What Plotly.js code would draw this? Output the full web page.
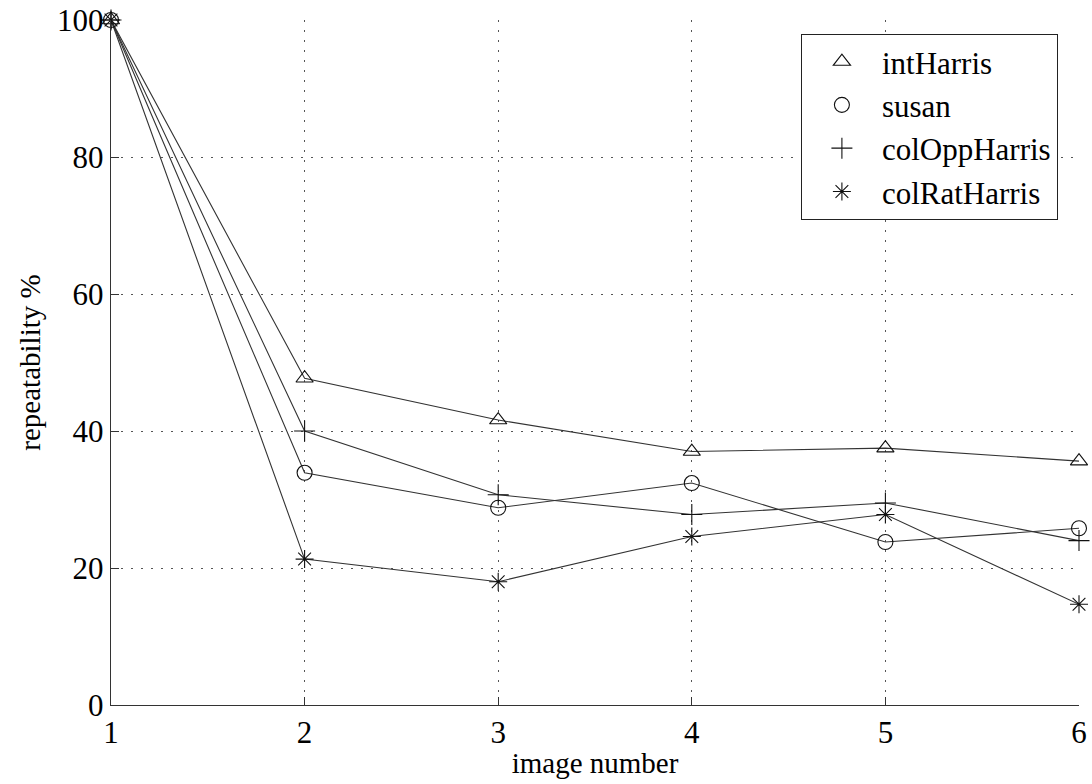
<!DOCTYPE html>
<html>
<head>
<meta charset="utf-8">
<script src="https://cdn.plot.ly/plotly-3.0.1.min.js"></script>
<style>
  html, body { margin: 0; padding: 0; background: #ffffff; }
  #chart { width: 1092px; height: 784px; }
</style>
</head>
<body>
<div id="chart"></div>
<script>
// Repeatability of interest point detectors over an image sequence
const imageNumbers = [1, 2, 3, 4, 5, 6];
const intHarris    = [100, 47.7, 41.6, 37.0, 37.5, 35.6];
const susan        = [100, 33.9, 28.8, 32.4, 23.8, 25.8];
const colOppHarris = [100, 40.0, 30.7, 27.8, 29.5, 24.0];
const colRatHarris = [100, 21.3, 18.0, 24.6, 27.8, 14.7];

const seriesNames   = ['intHarris', 'susan', 'colOppHarris', 'colRatHarris'];
const seriesValues  = [intHarris, susan, colOppHarris, colRatHarris];
const seriesSymbols = ['triangle-up-open', 'circle-open', 'cross-thin-open', 'asterisk-open'];

const xTickLabels = ['1', '2', '3', '4', '5', '6'];
const yTickValues = [0, 20, 40, 60, 80, 100];

const serif = '"Liberation Serif", serif';

const traces = [];
// connecting lines (no legend entry)
seriesValues.forEach((vals) => {
  traces.push({
    x: imageNumbers, y: vals, type: 'scatter', mode: 'lines',
    line: { color: '#333333', width: 1.1 },
    showlegend: false, hoverinfo: 'skip', cliponaxis: false
  });
});
// point markers, also used for the legend
seriesValues.forEach((vals, i) => {
  traces.push({
    x: imageNumbers, y: vals, type: 'scatter', mode: 'markers',
    name: seriesNames[i],
    marker: {
      symbol: seriesSymbols[i], size: 15, color: '#111111',
      line: { color: '#111111', width: 1.1 }
    },
    cliponaxis: false
  });
});

const layout = {
  width: 1092, height: 784,
  margin: { l: 111, r: 13, t: 20, b: 79 },
  paper_bgcolor: '#ffffff', plot_bgcolor: '#ffffff',
  font: { family: serif, color: '#000000' },
  showlegend: true,
  legend: {
    x: 0.978, y: 0.98, xanchor: 'right', yanchor: 'top',
    bgcolor: '#ffffff', bordercolor: '#222222', borderwidth: 1.2,
    font: { family: serif, size: 31, color: '#000000' },
    itemwidth: 70, tracegroupgap: 0
  },
  xaxis: {
    range: [1, 6],
    tickmode: 'array', tickvals: imageNumbers, ticktext: xTickLabels,
    ticks: 'inside', ticklen: 8, tickcolor: '#333333', tickwidth: 1,
    showline: true, linecolor: '#333333', linewidth: 1.2, mirror: false,
    showgrid: true, gridcolor: '#555555', gridwidth: 1, griddash: '2px,8px',
    zeroline: false,
    tickfont: { family: serif, size: 31, color: '#000000' },
    title: { text: 'image number', font: { family: serif, size: 29, color: '#000000' }, standoff: 3 }
  },
  yaxis: {
    range: [0, 100],
    tickmode: 'array', tickvals: yTickValues,
    ticks: 'inside', ticklen: 8, tickcolor: '#333333', tickwidth: 1,
    showline: true, linecolor: '#333333', linewidth: 1.2, mirror: false,
    showgrid: true, gridcolor: '#555555', gridwidth: 1, griddash: '2px,8px',
    zeroline: false,
    tickfont: { family: serif, size: 31, color: '#000000' },
    title: { text: 'repeatability %', font: { family: serif, size: 29, color: '#000000' }, standoff: 8 }
  }
};

Plotly.newPlot('chart', traces, layout, { displayModeBar: false, staticPlot: true });
</script>
</body>
</html>
